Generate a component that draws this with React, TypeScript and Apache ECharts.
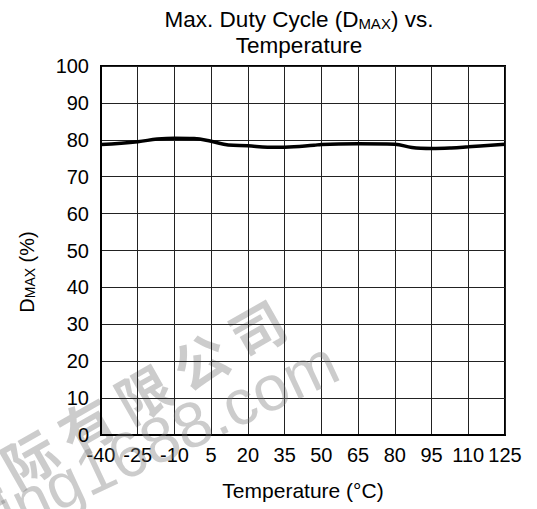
import React, { useEffect, useRef } from "react";
import * as echarts from "echarts";

// ---- Text ----
const TITLE_MAIN = "Max. Duty Cycle (D";
const TITLE_SUB = "MAX";
const TITLE_END = ") vs.";
const TITLE_LINE2 = "Temperature";
const X_NAME = "Temperature (°C)";
const Y_NAME_MAIN = "D";
const Y_NAME_SUB = "MAX";
const Y_NAME_END = " (%)";

// ---- Axes ----
const X_MIN = -40;
const X_MAX = 125;
const X_STEP = 15;
const Y_MIN = 0;
const Y_MAX = 100;
const Y_STEP = 10;

// ---- Data ----
const temperatures = [-40, -25, -17, -10, -2, 5, 12, 20, 28, 35, 47, 50, 65, 80, 87, 95, 103, 110, 125];
const dutyCycle = [78.7, 79.5, 80.2, 80.45, 80.35, 79.6, 78.6, 78.4, 78.0, 78.0, 78.5, 78.75, 78.9, 78.8, 77.9, 77.65, 77.8, 78.1, 78.8];

// ---- Watermark ----
const watermarkCn = ["国", "际", "有", "限", "公", "司"];
const watermarkEn = "ing1688.com";

const FONT = "'Liberation Sans', Arial, Helvetica, sans-serif";
const WM_FILL = "rgba(120,120,120,0.38)";

export default function App() {
  const ref = useRef<HTMLDivElement>(null);

  useEffect(() => {
    if (!ref.current) return;
    const chart = echarts.init(ref.current, null, { renderer: "svg" });

    const option: any = {
      animation: false,
      backgroundColor: "#ffffff",
      textStyle: { fontFamily: FONT },
      grid: {
        left: 101,
        right: 32,
        top: 66,
        bottom: 74,
        show: true,
        borderColor: "#000",
        borderWidth: 2,
        backgroundColor: "transparent",
      },
      xAxis: {
        type: "value",
        min: X_MIN,
        max: X_MAX,
        interval: X_STEP,
        name: X_NAME,
        nameLocation: "middle",
        nameGap: 45,
        nameTextStyle: { fontSize: 21, color: "#000", fontFamily: FONT },
        axisLine: { show: true, onZero: false, lineStyle: { color: "#000", width: 2 } },
        axisTick: { show: false },
        axisLabel: { fontSize: 20, color: "#000", margin: 10, fontFamily: FONT },
        splitLine: { show: true, lineStyle: { color: "#222", width: 1 } },
      },
      yAxis: {
        type: "value",
        min: Y_MIN,
        max: Y_MAX,
        interval: Y_STEP,
        axisLine: { show: true, onZero: false, lineStyle: { color: "#000", width: 2 } },
        axisTick: { show: false },
        axisLabel: {
          fontSize: 20,
          color: "#000",
          margin: 12,
          fontFamily: FONT,
          padding: [9, 0, 0, 0],
        },
        splitLine: { show: true, lineStyle: { color: "#222", width: 1 } },
      },
      series: [
        {
          type: "line",
          data: temperatures.map((t, i) => [t, dutyCycle[i]]),
          smooth: 0.4,
          showSymbol: false,
          symbol: "none",
          lineStyle: { color: "#000", width: 3.5 },
          z: 5,
        },
      ],
      graphic: [
        {
          type: "text",
          x: 299,
          y: 5,
          z: 50,
          style: {
            text: `{a|${TITLE_MAIN}}{s|${TITLE_SUB}}{a|${TITLE_END}}\n{a|${TITLE_LINE2}}`,
            align: "center",
            verticalAlign: "top",
            fill: "#000",
            rich: {
              a: { fontSize: 22.5, fontFamily: FONT, fill: "#000", lineHeight: 26, verticalAlign: "bottom" },
              s: { fontSize: 15, fontFamily: FONT, fill: "#000", lineHeight: 15, verticalAlign: "bottom" },
            },
          },
        },
        {
          type: "text",
          x: 27,
          y: 272,
          rotation: Math.PI / 2,
          z: 50,
          style: {
            text: `{a|${Y_NAME_MAIN}}{s|${Y_NAME_SUB}}{a|${Y_NAME_END}}`,
            align: "center",
            verticalAlign: "middle",
            fill: "#000",
            rich: {
              a: { fontSize: 20, fontFamily: FONT, fill: "#000", lineHeight: 20, verticalAlign: "bottom" },
              s: { fontSize: 14, fontFamily: FONT, fill: "#000", lineHeight: 14, verticalAlign: "bottom" },
            },
          },
        },
        {
          type: "group",
          x: 114,
          y: 408,
          rotation: (29.7 * Math.PI) / 180,
          z: 100,
          silent: true,
          children: watermarkCn.map((c, i) => ({
            type: "text",
            x: (i - 2.5) * 65.5,
            y: 0,
            style: {
              text: c,
              fontSize: 54,
              fontFamily: "'Noto Sans CJK SC', sans-serif",
              fontWeight: "bold",
              fill: WM_FILL,
              align: "center",
              verticalAlign: "middle",
            },
          })),
        },
        {
          type: "text",
          x: 168,
          y: 436,
          rotation: (25 * Math.PI) / 180,
          z: 100,
          silent: true,
          style: {
            text: watermarkEn,
            fontSize: 64,
            fontFamily: FONT,
            fill: WM_FILL,
            align: "center",
            verticalAlign: "middle",
          },
        },
      ],
    };

    chart.setOption(option);
    return () => chart.dispose();
  }, []);

  return (
    <div
      ref={ref}
      style={{ position: "fixed", left: 0, top: 0, width: 537, height: 509, background: "#fff" }}
    />
  );
}
